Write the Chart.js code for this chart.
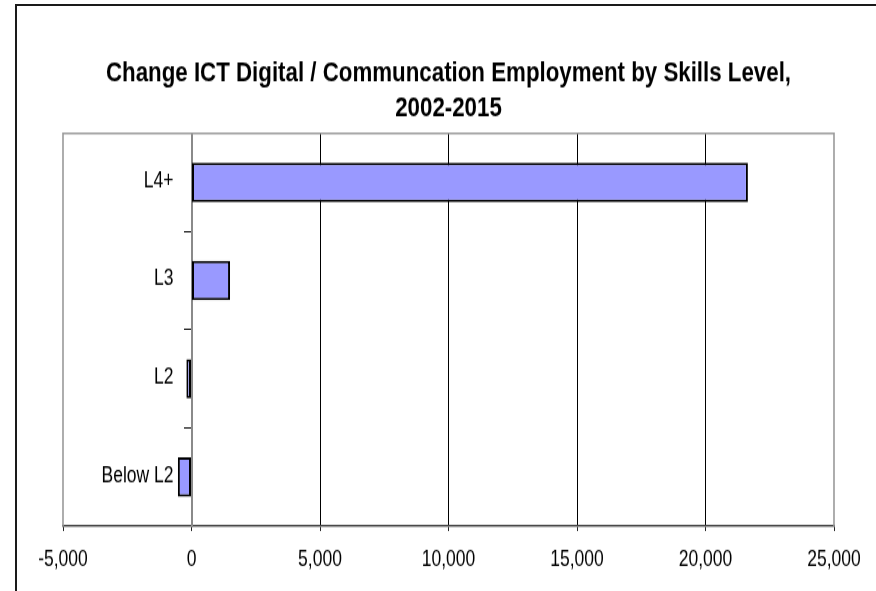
<!DOCTYPE html>
<html>
<head>
<meta charset="utf-8">
<script src="https://cdn.jsdelivr.net/npm/chart.js@4"></script>
<style>
  html, body { margin: 0; padding: 0; background: #fff; overflow: hidden; }
  #frame {
    position: absolute; left: 15px; top: 4px;
    width: 1000px; height: 1000px;
    border: 2px solid #1a1a1a;
  }
  /* the chart is drawn a bit squat and stretched tall, which gives the narrow lettering */
  #wrap {
    position: absolute; left: 0; top: 0; width: 876px; height: 473px;
    transform-origin: 0 0;
  }
</style>
</head>
<body>
<div id="frame"></div>
<div id="wrap"><canvas id="skills-chart"></canvas></div>
<script>
const levels = ["L4+", "L3", "L2", "Below L2"];
const change = [21650, 1500, -200, -530];
const xTicks = [-5000, 0, 5000, 10000, 15000, 20000, 25000];

const W = 876, H = 473;
const FONT = "'Liberation Sans', Arial, sans-serif";
const TICK_FONT = { family: FONT, size: 17.5 };

// grey box round the plot area
const plotFrame = {
	id: "plotFrame",
	beforeDatasetsDraw(chart) {
		const { ctx, chartArea: a } = chart;
		ctx.save();
		ctx.strokeStyle = "#9a9a9a";
		ctx.lineWidth = 1.6;
		ctx.beginPath();
		ctx.moveTo(a.left, a.bottom);
		ctx.lineTo(a.left, a.top);
		ctx.lineTo(a.right, a.top);
		ctx.lineTo(a.right, a.bottom);
		ctx.stroke();
		ctx.restore();
	}
};

// category names sit just left of the zero line
const levelLabels = {
	id: "levelLabels",
	afterDraw(chart) {
		const { ctx, scales } = chart;
		const x0 = scales.x.getPixelForValue(0);
		ctx.save();
		ctx.fillStyle = "#000";
		ctx.font = `${TICK_FONT.size}px ${FONT}`;
		ctx.textAlign = "right";
		ctx.textBaseline = "middle";
		levels.forEach((name, i) => {
			ctx.fillText(name, x0 - 18, scales.y.getPixelForTick(i) - 1);
		});
		ctx.restore();
	}
};

const config = {
	type: "bar",
	data: {
		labels: levels,
		datasets: [
			{
				data: change,
				backgroundColor: "#9999ff",
				borderColor: "#000",
				borderWidth: 2,
				borderSkipped: false,
				barPercentage: 0.4,
				categoryPercentage: 1
			}
		]
	},
	options: {
		indexAxis: "y",
		responsive: false,
		animation: false,
		layout: {
			padding: { left: 63, right: 42, top: 0, bottom: 2 }
		},
		scales: {
			x: {
				min: -5000,
				max: 25000,
				afterBuildTicks: axis => (axis.ticks = xTicks.map(value => ({ value }))),
				grid: {
					color: c => (c.tick && [-5000, 0, 25000].includes(c.tick.value) ? "rgba(0,0,0,0)" : "#000"),
					lineWidth: 1,
					tickLength: 4,
					tickColor: "#222"
				},
				border: { color: "#444", width: 1.6 },
				ticks: {
					color: "#000",
					padding: 12.5,
					maxRotation: 0,
					font: TICK_FONT,
					callback: v => v.toLocaleString("en-US")
				}
			},
			y: {
				position: { x: 0 },
				grid: {
					drawOnChartArea: false,
					offset: true,
					tickLength: 7,
					tickColor: "#000"
				},
				border: { color: "#8a8a8a", width: 2 },
				ticks: { display: false }
			}
		},
		plugins: {
			legend: { display: false },
			tooltip: { enabled: false },
			title: {
				display: true,
				text: ["Change ICT Digital / Communcation Employment by Skills Level,", "2002-2015"],
				color: "#000",
				font: { family: FONT, size: 22.3, weight: "bold", lineHeight: 1.29 },
				padding: { top: 44, bottom: 5.2 }
			}
		}
	},
	plugins: [plotFrame, levelLabels]
};

const wrap = document.getElementById("wrap");
wrap.style.transform = `scaleY(${591 / H})`;
const canvas = document.getElementById("skills-chart");
canvas.width = W;
canvas.height = H;
new Chart(canvas, config);
</script>
</body>
</html>
